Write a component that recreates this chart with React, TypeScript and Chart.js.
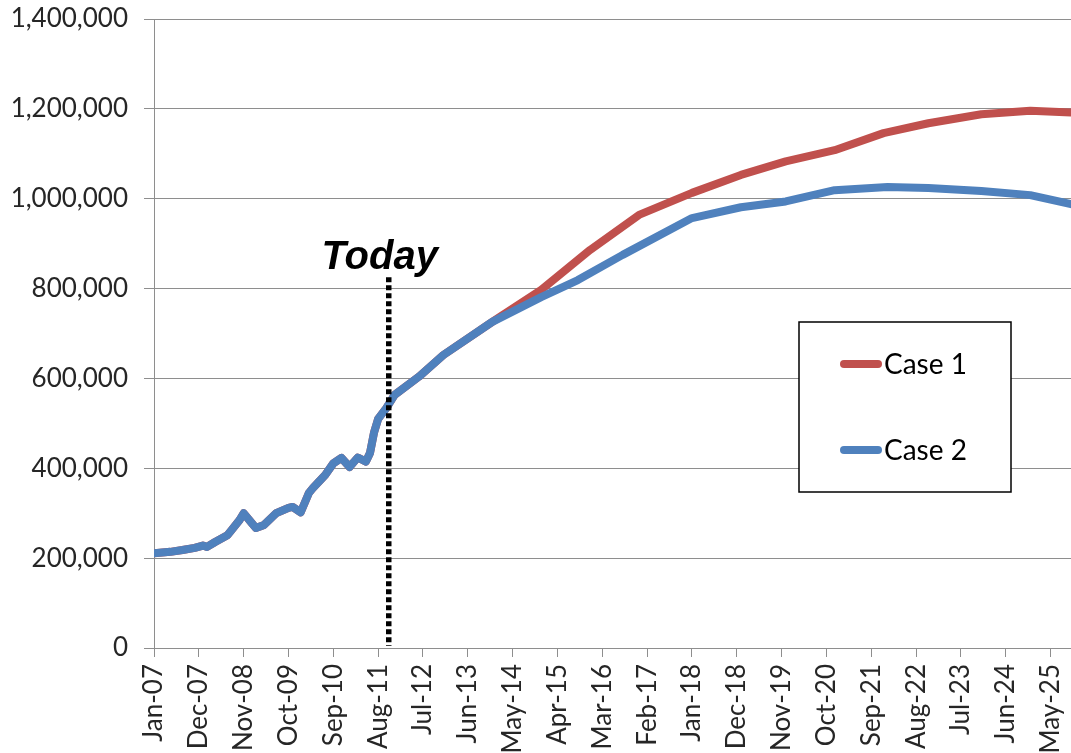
import { useEffect, useRef } from 'react';
import { Chart, registerables } from 'chart.js';

Chart.register(...registerables);

// ---- Data ----
const xTickLabels = [
  'Jan-07', 'Dec-07', 'Nov-08', 'Oct-09', 'Sep-10', 'Aug-11', 'Jul-12', 'Jun-13',
  'May-14', 'Apr-15', 'Mar-16', 'Feb-17', 'Jan-18', 'Dec-18', 'Nov-19', 'Oct-20',
  'Sep-21', 'Aug-22', 'Jul-23', 'Jun-24', 'May-25',
];
const monthsPerTick = 11;
const firstMonth = 0;
const lastMonth = 225;
const todayMonth = 57.6;
const todayLineTopValue = 825000;
const todayLabel = 'Today';

const seriesLabels = ['Case 1', 'Case 2'];

// history (shared by both cases), month index from Jan-07
const historyMonths = [
  0, 4, 7, 10, 12, 13, 15, 18, 19, 21, 22, 24, 25, 27, 30, 33, 34, 36, 38, 39,
  42, 44, 46, 48, 50, 52, 53, 54, 55, 57, 59, 65, 71, 83,
];
const historyValues = [
  211000, 214000, 218000, 223000, 228000, 225000, 236000, 251000, 262000, 285000,
  300000, 278000, 267000, 274000, 300000, 312000, 314000, 302000, 345000, 356000,
  385000, 411000, 423000, 403000, 424000, 415000, 434000, 480000, 510000, 534000,
  563000, 604000, 652000, 726000,
];

const case1Months = [95, 107, 119, 132, 144, 155, 167, 179, 190, 203, 215, 225];
const case1Values = [
  797000, 886000, 964000, 1013000, 1053000, 1083000, 1108000, 1146000, 1168000,
  1188000, 1196000, 1192000,
];

const case2Months = [95, 104, 115, 132, 144, 155, 167, 180, 190, 203, 215, 225];
const case2Values = [
  781000, 819000, 875000, 957000, 981000, 994000, 1019000, 1026000, 1024000,
  1017000, 1008000, 988000,
];

const yMin = 0;
const yMax = 1400000;
const yStep = 200000;

// ---- Styles ----
const RED = '#C0504D';
const BLUE = '#4F81BD';
const GRID = '#8e8e8e';
const TEXT = '#262626';

const toPoints = (months: number[], values: number[]) =>
  months.map((m, i) => ({ x: m, y: values[i] }));

const overlayPlugin = {
  id: 'overlay',
  afterDatasetsDraw(chart: any) {
    const { ctx, chartArea, scales } = chart;
    const xs = scales.x;
    const ys = scales.y;
    const px = xs.getPixelForValue(todayMonth);
    const top = ys.getPixelForValue(todayLineTopValue);
    ctx.save();
    // Today dotted line
    ctx.strokeStyle = '#000';
    ctx.lineWidth = 5.5;
    ctx.setLineDash([5, 3]);
    ctx.beginPath();
    ctx.moveTo(px, top);
    ctx.lineTo(px, chartArea.bottom - 2);
    ctx.stroke();
    ctx.setLineDash([]);
    // Today label
    ctx.fillStyle = '#000';
    ctx.font = 'italic bold 40px "Liberation Sans", Arial, sans-serif';
    ctx.textAlign = 'center';
    ctx.textBaseline = 'alphabetic';
    ctx.fillText(todayLabel, px - 9, top - 8);

    // Legend box
    const box = { left: 799, top: 322, width: 212, height: 170 };
    ctx.fillStyle = '#fff';
    ctx.fillRect(box.left, box.top, box.width, box.height);
    ctx.strokeStyle = '#000';
    ctx.lineWidth = 1.5;
    ctx.strokeRect(box.left, box.top, box.width, box.height);

    const rows = [364, 450];
    chart.data.datasets.forEach((ds: any, i: number) => {
      const yRow = rows[i];
      ctx.strokeStyle = ds.borderColor;
      ctx.lineWidth = 8;
      ctx.lineCap = 'round';
      ctx.beginPath();
      ctx.moveTo(844, yRow);
      ctx.lineTo(878, yRow);
      ctx.stroke();
      ctx.fillStyle = '#000';
      ctx.font = '28px Lato, sans-serif';
      ctx.textAlign = 'left';
      ctx.textBaseline = 'alphabetic';
      ctx.fillText(ds.label, 884, yRow + 10);
    });
    ctx.restore();
  },
};

export default function App() {
  const ref = useRef<HTMLCanvasElement | null>(null);

  useEffect(() => {
    document.body.style.margin = '0';
    const canvas = ref.current;
    if (!canvas) return;
    const historyPts = toPoints(historyMonths, historyValues);
    const chart = new Chart(canvas, {
      type: 'line',
      data: {
        datasets: [
          {
            label: seriesLabels[0],
            data: historyPts.concat(toPoints(case1Months, case1Values)),
            borderColor: RED,
            backgroundColor: RED,
            borderWidth: 8,
            pointRadius: 0,
            tension: 0,
            borderJoinStyle: 'round',
            borderCapStyle: 'round',
            order: 1,
          },
          {
            label: seriesLabels[1],
            data: historyPts.concat(toPoints(case2Months, case2Values)),
            borderColor: BLUE,
            backgroundColor: BLUE,
            borderWidth: 8,
            pointRadius: 0,
            tension: 0,
            borderJoinStyle: 'round',
            borderCapStyle: 'round',
            order: 0,
          },
        ],
      },
      options: {
        responsive: false,
        animation: false,
        layout: { padding: { top: 19, right: 0, bottom: 0, left: 0 } },
        plugins: {
          legend: { display: false },
          tooltip: { enabled: false },
        },
        scales: {
          x: {
            type: 'linear',
            min: firstMonth,
            max: lastMonth,
            afterBuildTicks: (scale: any) => {
              scale.ticks = xTickLabels.map((_, i) => ({ value: i * monthsPerTick }));
            },
            afterFit: (scale: any) => {
              scale.height = 105;
              scale.paddingLeft = 0;
              scale.paddingRight = 0;
            },
            grid: {
              drawOnChartArea: false,
              drawTicks: true,
              tickLength: 9,
              color: GRID,
              lineWidth: 1,
            },
            border: { display: true, color: GRID, width: 1 },
            ticks: {
              autoSkip: false,
              minRotation: 90,
              maxRotation: 90,
              padding: 7,
              color: TEXT,
              font: { family: 'Lato', size: 26 },
              callback: (_v: any, i: number) => xTickLabels[i],
            },
          },
          y: {
            type: 'linear',
            min: yMin,
            max: yMax,
            afterFit: (scale: any) => {
              scale.width = 154;
              scale.paddingTop = 0;
              scale.paddingBottom = 0;
            },
            grid: {
              drawTicks: true,
              tickLength: 10,
              color: GRID,
              lineWidth: 1,
            },
            border: { display: true, color: GRID, width: 1 },
            ticks: {
              stepSize: yStep,
              padding: 16,
              color: TEXT,
              font: { family: 'Lato', size: 26 },
              callback: (v: any) => Number(v).toLocaleString('en-US'),
            },
          },
        },
      },
      plugins: [overlayPlugin],
    } as any);
    return () => chart.destroy();
  }, []);

  return (
    <div style={{ width: 1071, height: 753, position: 'relative', background: '#fff' }}>
      <canvas ref={ref} width={1071} height={753} style={{ display: 'block' }} />
    </div>
  );
}
